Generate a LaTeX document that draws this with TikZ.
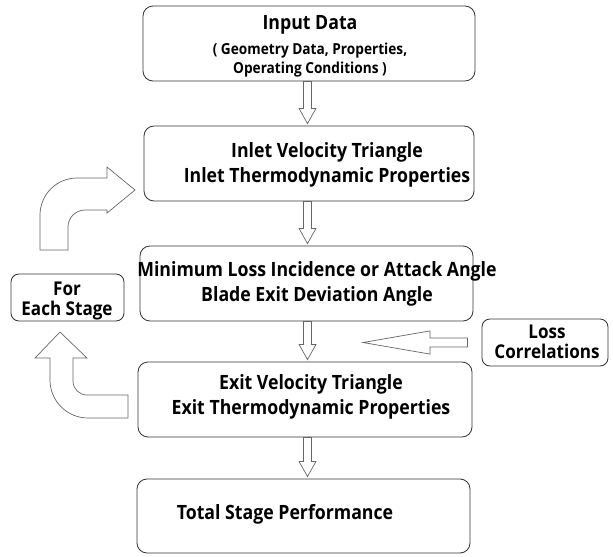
\documentclass[tikz,border=0pt]{standalone}
\usepackage{fontspec}
\setmainfont{Open Sans}[FakeStretch=0.9]
\usetikzlibrary{calc}
\tikzset{
  stagebox/.style={draw=black!80, line width=0.6pt, rounded corners=0.25cm, fill=white},
  sidebox/.style={draw=black!80, line width=0.6pt, rounded corners=0.2cm, fill=white,
    minimum width=2.825cm, minimum height=1.175cm},
  boxtxt/.style={inner sep=0pt, align=center, font=\bfseries\fontsize{14}{17.8}\selectfont},
  subtxt/.style={inner sep=0pt, align=center, font=\bfseries\fontsize{10.8}{13.5}\selectfont},
  sidetxt/.style={inner sep=0pt, align=center, font=\bfseries\fontsize{13.5}{14.5}\selectfont},
  hollow/.style={draw=black!60, line width=0.5pt, fill=white, line join=miter}
}
\begin{document}
\begin{tikzpicture}
 \useasboundingbox (0,0) rectangle (15.325,-13.9);
 % boxes
 \node[stagebox, minimum width=8.3cm, minimum height=1.875cm] (inp) at (7.725,-1.0875) {};
 \node[stagebox, minimum width=8.25cm, minimum height=1.875cm] (inl) at (7.725,-4.0875) {};
 \node[stagebox, minimum width=8.325cm, minimum height=1.875cm] (mls) at (7.6625,-7.0875) {};
 \node[stagebox, minimum width=8.35cm, minimum height=1.875cm] (ext) at (7.625,-9.9875) {};
 \node[stagebox, minimum width=8.325cm, minimum height=1.85cm] (tot) at (7.5875,-12.9) {};
 \node[sidebox] (fes) at (1.6875,-7.4375) {};
 \node[sidebox, minimum width=3.15cm] (loss) at (13.625,-8.5625) {};
 % texts
 \node[boxtxt] (inpT) at (7.75,-0.63) {Input Data};
 \node[subtxt] (inpS) at (7.75,-1.5) {( Geometry Data, Properties,\\Operating Conditions )};
 \node[boxtxt] (inlT) at (8.175,-4.125) {Inlet Velocity Triangle\\Inlet Thermodynamic Properties};
 \node[boxtxt] (mlsT) at (7.925,-7.1) {Minimum Loss Incidence or Attack Angle\\Blade Exit Deviation Angle};
 \node[boxtxt] (extT) at (7.775,-9.925) {Exit Velocity Triangle\\Exit Thermodynamic Properties};
 \node[boxtxt] (totT) at (7.125,-12.86) {Total Stage Performance};
 \node[sidetxt] (fesT) at (1.675,-7.525) {For\\Each Stage};
 \node[sidetxt] (lossT) at (13.675,-8.54) {Loss\\Correlations};
 % block arrows down
 \coordinate (ax) at (7.6875,0);
 \draw[hollow] ($(ax |- inp.south)+(-0.1,0)$) -- ($(ax |- inl.north)+(-0.1,0.425)$) -- ++(-0.11,0) -- ($(ax |- inl.north)+(0,0.05)$) -- ++(0.21,0.375) -- ++(-0.11,0) -- ($(ax |- inp.south)+(0.1,0)$) -- cycle;
 \draw[hollow] ($(ax |- inl.south)+(-0.1,0)$) -- ($(ax |- mls.north)+(-0.1,0.425)$) -- ++(-0.11,0) -- ($(ax |- mls.north)+(0,0.05)$) -- ++(0.21,0.375) -- ++(-0.11,0) -- ($(ax |- inl.south)+(0.1,0)$) -- cycle;
 \draw[hollow] ($(ax |- mls.south)+(-0.1,0)$) -- ($(ax |- ext.north)+(-0.1,0.425)$) -- ++(-0.11,0) -- ($(ax |- ext.north)+(0,0.05)$) -- ++(0.21,0.375) -- ++(-0.11,0) -- ($(ax |- mls.south)+(0.1,0)$) -- cycle;
 \draw[hollow] ($(ax |- ext.south)+(-0.1,0)$) -- ($(ax |- tot.north)+(-0.1,0.425)$) -- ++(-0.11,0) -- ($(ax |- tot.north)+(0,0.05)$) -- ++(0.21,0.375) -- ++(-0.11,0) -- ($(ax |- ext.south)+(0.1,0)$) -- cycle;
 % loss correlations arrow
 \coordinate (lossTip) at (9.075,-8.5625);
 \draw[hollow] ($(loss.west)+(-0.35,0.1125)$) -- ($(lossTip)+(1.675,0.1125)$) -- ($(lossTip)+(1.675,0.29)$) -- (lossTip) -- ($(lossTip)+(1.675,-0.29)$) -- ($(lossTip)+(1.675,-0.1125)$) -- ($(loss.west)+(-0.35,-0.1125)$) -- cycle;
 % loop arrows
 \draw[hollow] (1.0,-6.25) -- (1.0,-5.375) arc[start angle=180, end angle=90, radius=0.925] -- (2.675,-4.45) -- (2.675,-4.175) -- (3.375,-4.75) -- (2.675,-5.325) -- (2.675,-5.25) -- (2.125,-5.25) arc[start angle=90, end angle=180, radius=0.425] -- (1.7,-6.25) -- cycle;
 \draw[hollow] (1.5,-8.3) -- (2.175,-8.95) -- (1.825,-8.95) -- (1.825,-9.525) arc[start angle=180, end angle=270, radius=0.35] -- (3.2,-9.875) -- (3.2,-10.45) -- (2.2,-10.45) arc[start angle=270, end angle=180, radius=0.95] -- (1.25,-8.95) -- (0.875,-8.95) -- cycle;
\end{tikzpicture}
\end{document}
